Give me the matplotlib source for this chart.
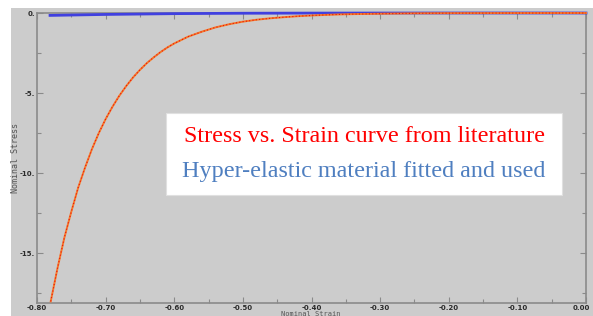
import matplotlib
matplotlib.use("Agg")
import matplotlib.pyplot as plt
import matplotlib.transforms as mtransforms
from matplotlib.patches import Rectangle
from matplotlib.ticker import MultipleLocator, FormatStrFormatter, FuncFormatter

# Literature stress-strain curve (nominal strain, nominal stress)
lit_strain = [-0.780, -0.770, -0.760, -0.750, -0.740, -0.730, -0.720, -0.710, -0.700,
              -0.690, -0.680, -0.670, -0.660, -0.650, -0.640, -0.630, -0.620, -0.610,
              -0.600, -0.580, -0.560, -0.540, -0.520, -0.500, -0.480, -0.460, -0.440,
              -0.420, -0.400, -0.380, -0.360, -0.340, -0.300, -0.250, -0.200, -0.100,
              0.000]
lit_stress = [-18.0, -15.9, -14.0, -12.4, -10.9, -9.65, -8.5, -7.5, -6.62,
              -5.85, -5.16, -4.56, -4.02, -3.55, -3.13, -2.77, -2.44, -2.15,
              -1.90, -1.48, -1.17, -0.90, -0.70, -0.54, -0.42, -0.33, -0.26,
              -0.20, -0.155, -0.12, -0.09, -0.07, -0.045, -0.02, -0.01, -0.003,
              0.0]

# Hyper-elastic fitted material
fit_strain = [-0.781, -0.70, -0.60, -0.50, -0.40, -0.30, -0.20, -0.10, 0.00]
fit_stress = [-0.15, -0.09, -0.04, -0.015, -0.006, -0.003, -0.001, 0.0, 0.0]

x_ticks = [-0.80, -0.70, -0.60, -0.50, -0.40, -0.30, -0.20, -0.10, 0.00]
y_ticks = [0, -5, -10, -15]

W, H = 593, 316
fig = plt.figure(figsize=(W / 100, H / 100), dpi=100)
fig.patch.set_facecolor("white")

bg = fig.add_axes([11 / W, 0, 1 - 11 / W, 1 - 8 / H], zorder=-5)
bg.set_axis_off()
bg.add_patch(Rectangle((0, 0), 1, 1, transform=bg.transAxes, facecolor="#cccccc",
                       edgecolor="none"))

ax = fig.add_axes([37 / W, 1 - 303 / H, (586 - 37) / W, (303 - 13) / H], zorder=1)
ax.set_facecolor("#cccccc")

ax.plot(fit_strain, fit_stress, color="#4040e0", lw=2.0, zorder=3, clip_on=False)
ax.plot(lit_strain, lit_stress, color="#f5792a", lw=1.4, zorder=4, clip_on=False)
ax.plot(lit_strain, lit_stress, color="#e81010", lw=0.8, ls=(0, (1, 2)), zorder=5, clip_on=False)

ax.set_xlim(-0.80, 0.0)
ax.set_ylim(-18.1, 0.0)
ax.set_xticks(x_ticks)
ax.set_yticks(y_ticks)
ax.xaxis.set_minor_locator(MultipleLocator(0.05))
ax.yaxis.set_minor_locator(MultipleLocator(2.5))
ax.xaxis.set_major_formatter(FormatStrFormatter("%.2f"))
ax.yaxis.set_major_formatter(FuncFormatter(lambda v, p: "%d." % round(v)))

for s in ax.spines.values():
    s.set_color("#8a8a8a")
    s.set_linewidth(1.2)

ax.tick_params(which="both", direction="in", top=True, right=True, colors="#8a8a8a",
               labelcolor="#2a2a2a", labelsize=5, pad=1.5)
ax.tick_params(which="major", length=4, width=0.8)
ax.tick_params(which="minor", length=3, width=0.8)
fig.canvas.draw()
xl = ax.get_xticklabels()
for lbl in xl + ax.get_yticklabels():
    lbl.set_fontweight("bold")
xl[-1].set_transform(xl[-1].get_transform() +
                     mtransforms.ScaledTranslation(-5 / 100, 0, fig.dpi_scale_trans))

fig.text(311 / W, 1 - 313.5 / H, "Nominal Strain", ha="center", va="center",
         family="DejaVu Sans Mono", fontsize=5, color="#555555")
fig.text(15 / W, 1 - 158 / H, "Nominal Stress", ha="center", va="center", rotation=90,
         family="DejaVu Sans Mono", fontsize=6, color="#555555")

# Legend-like white box
fig.patches.append(Rectangle((166 / W, 1 - 195 / H), (562 - 166) / W, (195 - 113) / H,
                             transform=fig.transFigure, facecolor="white",
                             edgecolor="#e0e0e0", lw=0.8, zorder=10))
fig.text(364 / W, 1 - 136 / H, "Stress vs. Strain curve from literature", ha="center",
         va="center", family="Liberation Serif", fontsize=17.4, color="#ff0000", zorder=11)
fig.text(364 / W, 1 - 172 / H, "Hyper-elastic material fitted and used", ha="center",
         va="center", family="Liberation Serif", fontsize=17.4, color="#4f7fc0", zorder=11)

fig.savefig("out.png", dpi=100)
